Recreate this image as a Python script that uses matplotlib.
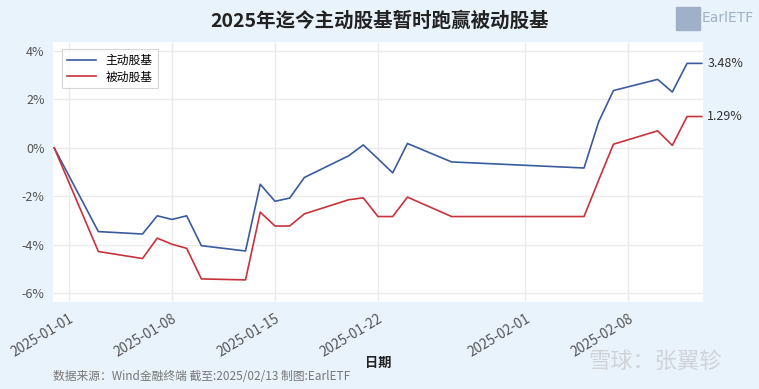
import pandas as pd
import matplotlib.pyplot as plt
import matplotlib.dates as mdates
from matplotlib.ticker import FuncFormatter

plt.rcParams['font.family'] = ['Noto Sans CJK SC', 'DejaVu Sans']

# trading days and cumulative return (%)
dates = ["2024-12-31", "2025-01-03", "2025-01-06", "2025-01-07", "2025-01-08",
         "2025-01-09", "2025-01-10", "2025-01-13", "2025-01-14", "2025-01-15",
         "2025-01-16", "2025-01-17", "2025-01-20", "2025-01-21", "2025-01-22",
         "2025-01-23", "2025-01-24", "2025-01-27", "2025-02-05", "2025-02-06",
         "2025-02-07", "2025-02-10", "2025-02-11", "2025-02-12", "2025-02-13"]
active = [0.0, -3.45, -3.55, -2.80, -2.95,
          -2.80, -4.03, -4.25, -1.50, -2.20,
          -2.07, -1.22, -0.33, 0.12, -0.45,
          -1.03, 0.18, -0.58, -0.83, 1.08,
          2.36, 2.82, 2.30, 3.48, 3.48]
passive = [0.0, -4.27, -4.56, -3.72, -3.97,
           -4.14, -5.40, -5.44, -2.65, -3.22,
           -3.22, -2.72, -2.14, -2.06, -2.83,
           -2.83, -2.03, -2.83, -2.83, -1.32,
           0.15, 0.70, 0.10, 1.29, 1.29]
series_names = ["主动股基", "被动股基"]
x_ticks = ["2025-01-01", "2025-01-08", "2025-01-15", "2025-01-22", "2025-02-01", "2025-02-08"]
y_ticks = [-6, -4, -2, 0, 2, 4]

df = pd.DataFrame({"date": pd.to_datetime(dates), "active": active, "passive": passive})

bg = "#e9f3fc"
blue = "#3a5b9c"
red = "#c8323c"

fig = plt.figure(figsize=(7.59, 3.89), dpi=100, facecolor=bg)
ax = fig.add_axes([0.0698, 0.2237, 0.8564, 0.6683])
ax.set_facecolor("white")

ax.plot(df["date"], df["active"], color=blue, lw=1.2, label=series_names[0])
ax.plot(df["date"], df["passive"], color=red, lw=1.2, label=series_names[1])

ax.set_xlim(df["date"].iloc[0] - pd.Timedelta(hours=2), df["date"].iloc[-1] + pd.Timedelta(hours=2))
ax.set_ylim(-6.35, 4.36)
ax.set_yticks(y_ticks)
ax.yaxis.set_major_formatter(FuncFormatter(lambda v, p: f"{v:.0f}%"))
ax.set_xticks(pd.to_datetime(x_ticks))
ax.xaxis.set_major_formatter(mdates.DateFormatter("%Y-%m-%d"))
plt.setp(ax.get_xticklabels(), rotation=31, ha="right", rotation_mode="anchor")
ax.tick_params(axis="both", length=0, colors="#555555")
ax.tick_params(axis="y", labelsize=9, pad=6)
ax.tick_params(axis="x", labelsize=9.8, pad=7)
ax.grid(True, color="#ebebeb", lw=1)
for s in ax.spines.values():
    s.set_visible(False)

# end labels
ax.annotate(f"{active[-1]:.2f}%", (df["date"].iloc[-1], active[-1]), xytext=(4, 0),
            textcoords="offset points", va="center", fontsize=9, color="#333333",
            annotation_clip=False)
ax.annotate(f"{passive[-1]:.2f}%", (df["date"].iloc[-1], passive[-1]), xytext=(4, 0),
            textcoords="offset points", va="center", fontsize=9, color="#333333",
            annotation_clip=False)

leg = ax.legend(loc="upper left", fontsize=8.5, frameon=True, fancybox=False,
                edgecolor="#cccccc", handlelength=2.5, borderpad=0.4,
                labelspacing=0.3, bbox_to_anchor=(0.005, 0.995))
leg.get_frame().set_linewidth(0.8)

fig.text(0.5, 0.945, "2025年迄今主动股基暂时跑赢被动股基", ha="center", va="center",
         fontsize=14, fontweight="bold", color="#222222")
fig.text(0.498, 0.068, "日期", ha="center", va="center", fontsize=9.5,
         fontweight="bold", color="#222222")
fig.text(0.07, 0.031, "数据来源：Wind金融终端 截至:2025/02/13 制图:EarlETF", ha="left",
         va="center", fontsize=8.5, color="#777777")

# logo and watermark
fig.patches.append(plt.Rectangle((0.891, 0.923), 0.031, 0.059,
                                 transform=fig.transFigure, color="#9fb0c8"))
fig.text(0.924, 0.955, "EarlETF", ha="left", va="center", fontsize=10,
         color="#9fb0c8", family="DejaVu Sans")
fig.text(0.775, 0.072, "雪球：张翼轸", ha="left", va="center", fontsize=16,
         color="#d0d4d8")

fig.savefig("out.png", dpi=100, facecolor=bg)
